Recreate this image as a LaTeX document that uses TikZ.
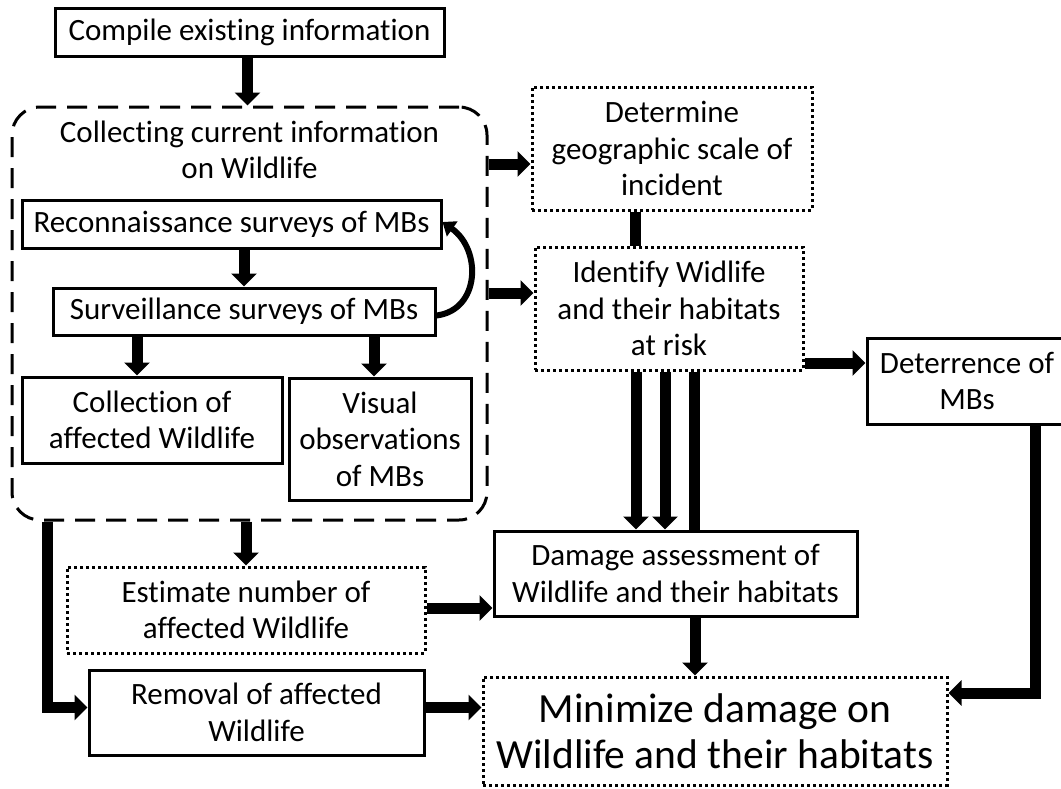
\documentclass[tikz,border=0pt]{standalone}
\usepackage{fontspec}
\setmainfont{Carlito}[Ligatures={NoCommon}]
\usetikzlibrary{arrows.meta,calc}
\newcommand\mysz{\fontsize{31}{36.5}\selectfont}
\newcommand\mybig{\fontsize{41.5}{46}\selectfont}
\begin{document}
\begin{tikzpicture}[x=1pt,y=-1pt,
  box/.style={draw, line width=3pt, align=center, inner sep=0pt, font=\mysz},
  dotbox/.style={box, dash pattern=on 3pt off 3pt},
  arr/.style={line width=11pt, -{Triangle[width=25pt,length=13pt]}},
  link/.style={line width=11pt},
  curvarr/.style={line width=6pt, -{Triangle[width=18pt,length=12pt]}},
  plaintext/.style={align=center, inner sep=0pt, font=\mysz}]
\useasboundingbox (0,0) rectangle (1061,788);
\fill[white] (0,0) rectangle (1061,788);

% container
\node[draw, line width=3pt, dash pattern=on 20pt off 11pt, rounded corners=28pt,
      minimum width=475pt, minimum height=413pt, inner sep=0pt] (container) at (249.5,313.5) {};
\node[plaintext] (conttitle) at (249.5,150) {Collecting current information\\on Wildlife};

% nodes
\node[box, minimum width=389pt, minimum height=48pt] (compile) at (249.5,32) {Compile existing information};
\node[box, minimum width=419pt, minimum height=48pt] (recon) at (231.5,224) {Reconnaissance surveys of MBs};
\node[box, minimum width=382pt, minimum height=47pt] (surv) at (244,311.5) {Surveillance surveys of MBs};
\node[box, minimum width=260pt, minimum height=86pt] (collect) at (152,420) {Collection of\\affected Wildlife};
\node[box, minimum width=182pt, minimum height=122pt] (visual) at (380,439) {Visual\\observations\\of MBs};
\node[dotbox, minimum width=358pt, minimum height=86pt] (estimate) at (246,610) {Estimate number of\\affected Wildlife};
\node[box, minimum width=335pt, minimum height=85pt] (removal) at (256.5,712.5) {Removal of affected\\Wildlife};
\node[dotbox, minimum width=280pt, minimum height=123pt] (determine) at (672,148.5) {Determine\\geographic scale of\\incident};
\node[dotbox, minimum width=268pt, minimum height=123pt] (identify) at (669,308.5) {Identify Widlife\\and their habitats\\at risk};
\node[box, minimum width=200pt, minimum height=86pt] (deter) at (967,381) {Deterrence of\\MBs};
\node[box, minimum width=363pt, minimum height=85pt] (damage) at (675.5,573.5) {Damage assessment of\\Wildlife and their habitats};
\node[dotbox, minimum width=464pt, minimum height=108pt, font=\mybig] (minimize) at (715,731) {Minimize damage on\\Wildlife and their habitats};

% connectors
\draw[arr] ([xshift=-2pt]compile.south) -- ([xshift=-2pt]compile.south |- container.north);
\draw[arr] (surv.north |- recon.south) -- (surv.north);
\draw[arr] ([xshift=-15pt]collect.north |- surv.south) -- ([xshift=-15pt]collect.north);
\draw[arr] ([xshift=-6pt]visual.north |- surv.south) -- ([xshift=-6pt]visual.north);
\draw[curvarr] ([yshift=-4pt]surv.east) .. controls (480,310) and (482,250) .. ([yshift=2pt]recon.east);

\coordinate (d1) at ([yshift=-15.5pt]determine.west);
\draw[arr] (d1 -| container.east) -- (d1);
\coordinate (i0) at ([yshift=15.5pt]identify.west);
\draw[arr] (i0 -| container.east) -- (i0);
\draw[link] ([xshift=-37pt]determine.south) -- ([xshift=-37pt]determine.south |- identify.north);

\coordinate (i1) at ([yshift=-54.5pt]identify.east);
\draw[arr] (i1) -- (i1 -| deter.west);

\draw[arr] ([xshift=-33pt]identify.south) -- ([xshift=-33pt]identify.south |- damage.north);
\draw[arr] ([xshift=-4pt]identify.south) -- ([xshift=-4pt]identify.south |- damage.north);
\draw[link] ([xshift=25pt]identify.south) -- ([xshift=25pt]identify.south |- damage.north);

\draw[arr] ([xshift=19.5pt]damage.south) -- ([xshift=19.5pt]damage.south |- minimize.north);

\coordinate (m1) at ([yshift=38pt]minimize.east);
\draw[arr] ([xshift=68pt]deter.south) |- (m1);

\draw[arr] (estimate.north |- container.south) -- (estimate.north);
\coordinate (r1) at ([yshift=5pt]removal.west);
\draw[arr] ([xshift=37pt]container.south west) |- (r1);
\coordinate (e1) at ([yshift=2pt]estimate.east);
\draw[arr] (e1) -- (e1 -| damage.west);
\coordinate (r2) at ([yshift=5pt]removal.east);
\draw[arr] (r2) -- (r2 -| minimize.west);
\end{tikzpicture}
\end{document}
